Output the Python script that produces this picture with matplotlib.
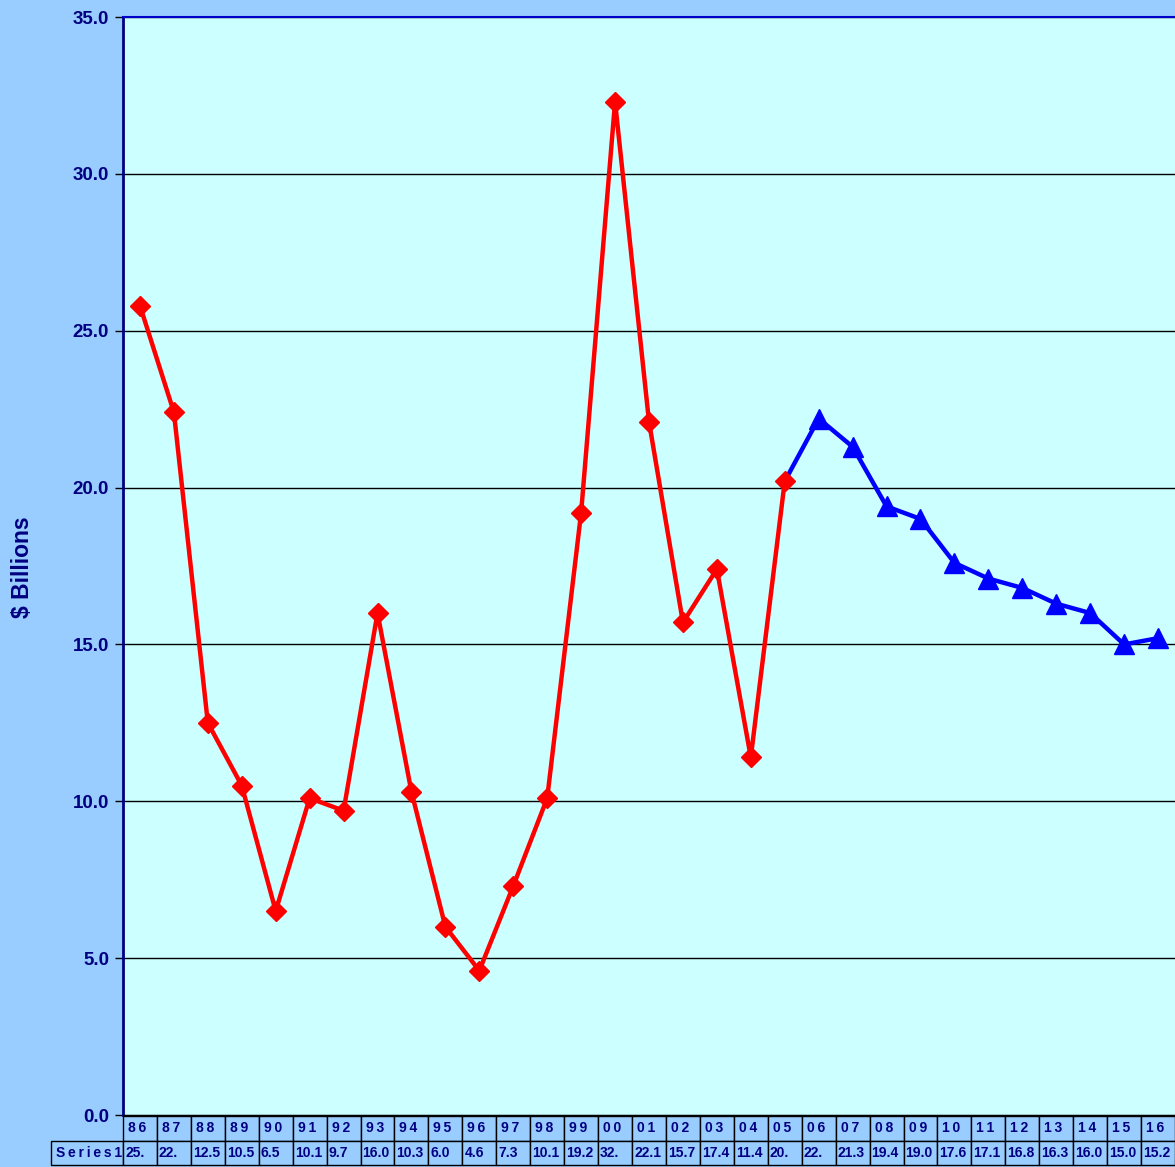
import matplotlib
matplotlib.use("Agg")
import matplotlib.pyplot as plt
from matplotlib.patches import Rectangle

years = ["86", "87", "88", "89", "90", "91", "92", "93", "94", "95", "96",
         "97", "98", "99", "00", "01", "02", "03", "04", "05", "06", "07",
         "08", "09", "10", "11", "12", "13", "14", "15", "16"]
values = [25.8, 22.4, 12.5, 10.5, 6.5, 10.1, 9.7, 16.0, 10.3, 6.0, 4.6,
          7.3, 10.1, 19.2, 32.3, 22.1, 15.7, 17.4, 11.4, 20.2, 22.2, 21.3,
          19.4, 19.0, 17.6, 17.1, 16.8, 16.3, 16.0, 15.0, 15.2]
# as shown in the data table (narrow cells cut some values off)
table_text = ["25.", "22.", "12.5", "10.5", "6.5", "10.1", "9.7", "16.0",
              "10.3", "6.0", "4.6", "7.3", "10.1", "19.2", "32.", "22.1",
              "15.7", "17.4", "11.4", "20.", "22.", "21.3", "19.4", "19.0",
              "17.6", "17.1", "16.8", "16.3", "16.0", "15.0", "15.2"]
series_name = "Series1"
last_actual = 19   # index of '05, after it the blue projection starts
yticks = [0, 5, 10, 15, 20, 25, 30, 35]

navy = "#000080"
W, H = 1175, 1167
AW, AH = 1052, 1098
plt.rcParams["font.family"] = ["Liberation Sans", "DejaVu Sans"]

fig = plt.figure(figsize=(W / 100, H / 100), dpi=100, facecolor="#99CCFF")
ax = fig.add_axes([123 / W, 1 - 1115 / H, AW / W, AH / H])
ax.set_facecolor("#CCFFFF")

x = list(range(len(years)))
ax.plot(x[last_actual:], values[last_actual:], color="#0000FF", lw=3.2, zorder=3)
ax.plot(x[last_actual + 1:], values[last_actual + 1:], ls="none", marker="^",
        ms=14, color="#0000FF", zorder=4)
ax.plot(x[:last_actual + 1], values[:last_actual + 1], color="#FF0000", lw=3.2,
        marker="D", ms=10.5, zorder=5)

ax.set_xlim(-0.5, len(years) - 0.5)
ax.set_ylim(0, 35)
ax.set_yticks(yticks)
ax.set_yticklabels([f"{t:.1f}" for t in yticks], fontsize=13.5,
                   fontweight="bold", color=navy)
ax.tick_params(axis="y", length=6, width=1, color="black", pad=4)
ax.set_xticks([])
ax.grid(axis="y", color="black", lw=1)
ax.set_axisbelow(True)
ax.spines["right"].set_visible(False)
ax.spines["left"].set_color(navy)
ax.spines["left"].set_linewidth(2)
ax.spines["top"].set_color("#0000CC")
ax.spines["top"].set_linewidth(1.5)
ax.spines["bottom"].set_color("black")

fig.text(23 / W, 1 - 567 / H, "$ Billions", rotation=90, ha="center",
         va="center", fontsize=16.5, fontweight="bold", color=navy)

# data table under the plot, drawn in axes coordinates
n = len(years)
cw = 1 / n
r1_top, r1_bot, r2_bot = -1 / AH, -26 / AH, -50 / AH
lab_left = -72 / AW
tkw = dict(transform=ax.transAxes, clip_on=False, color=navy,
           fontweight="bold", va="center", ha="left")
thin = "\u2009"


def cell(x0, y0, w, h):
    ax.add_patch(Rectangle((x0, y0), w, h, transform=ax.transAxes,
                           clip_on=False, facecolor="#99CCFF",
                           edgecolor="black", lw=1.0, zorder=6))


cell(lab_left, r2_bot, -lab_left, r1_bot - r2_bot)
ax.text(lab_left + 5 / AW, (r1_bot + r2_bot) / 2, thin.join(series_name),
        fontsize=10, zorder=7, **tkw)
for i in range(n):
    x0 = i * cw
    cell(x0, r1_bot, cw, r1_top - r1_bot)
    cell(x0, r2_bot, cw, r1_bot - r2_bot)
    ax.text(x0 + 5 / AW, (r1_top + r1_bot) / 2, thin.join(years[i]),
            fontsize=10, zorder=7, **tkw)
    ax.text(x0 + 2 / AW, (r1_bot + r2_bot) / 2, table_text[i],
            fontsize=10, zorder=7, **tkw)

fig.savefig("out.png", dpi=100, facecolor=fig.get_facecolor())
